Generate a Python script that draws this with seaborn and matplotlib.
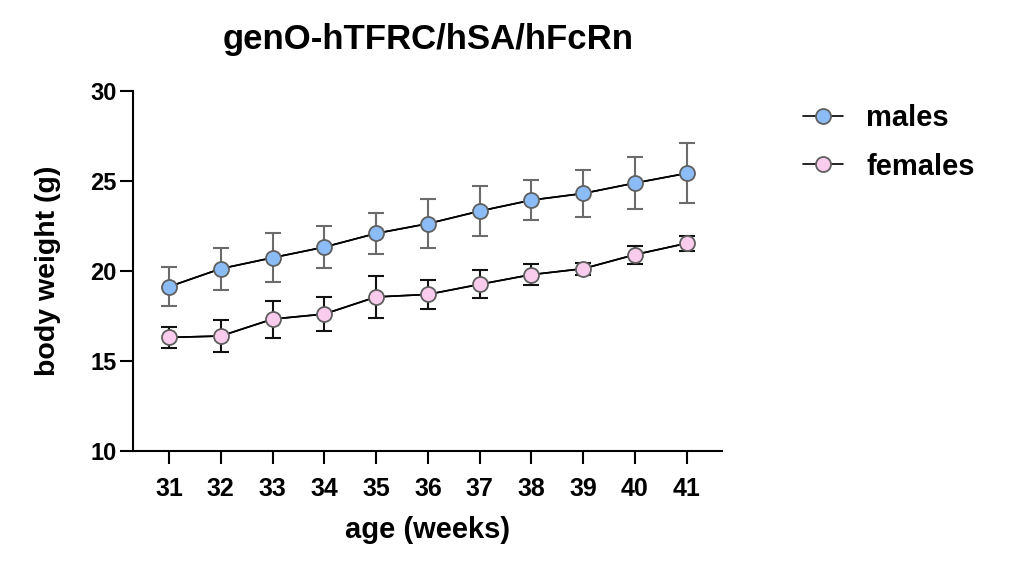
import matplotlib
matplotlib.use('Agg')
import matplotlib.pyplot as plt
import seaborn as sns
import pandas as pd

# body weight (g), mean +/- SEM
weeks = [31, 32, 33, 34, 35, 36, 37, 38, 39, 40, 41]
males_mean = [19.13, 20.13, 20.74, 21.33, 22.09, 22.63, 23.33, 23.94, 24.31, 24.89, 25.43]
males_err = [1.09, 1.17, 1.35, 1.18, 1.16, 1.36, 1.38, 1.10, 1.30, 1.46, 1.67]
females_mean = [16.31, 16.39, 17.33, 17.61, 18.56, 18.70, 19.26, 19.80, 20.13, 20.91, 21.54]
females_err = [0.57, 0.90, 1.03, 0.92, 1.15, 0.80, 0.77, 0.58, 0.33, 0.50, 0.43]

groups = ['males', 'females']
fill_colors = {'males': '#8cbcf5', 'females': '#f9cbec'}
err_colors = {'males': '#6b6b6b', 'females': '#111111'}

df = pd.concat([
    pd.DataFrame({'week': weeks, 'weight': males_mean, 'sem': males_err, 'group': 'males'}),
    pd.DataFrame({'week': weeks, 'weight': females_mean, 'sem': females_err, 'group': 'females'}),
], ignore_index=True)

sns.set_style('ticks')
plt.rcParams['font.family'] = ['Liberation Sans', 'DejaVu Sans']
plt.rcParams['font.weight'] = 'bold'
for key in ['text.color', 'axes.labelcolor', 'xtick.color', 'ytick.color', 'axes.edgecolor']:
    plt.rcParams[key] = 'black'

fig = plt.figure(figsize=(10.14, 5.62), dpi=100)
ax = fig.add_axes([0.1315, 0.1975, 0.581, 0.6405])

for g in groups:
    sub = df[df['group'] == g]
    ax.errorbar(sub['week'], sub['weight'], yerr=sub['sem'], fmt='none',
                ecolor=err_colors[g], elinewidth=1.5, capsize=5.5, capthick=1.5, zorder=2)

sns.lineplot(data=df, x='week', y='weight', hue='group', hue_order=groups,
             palette={'males': 'black', 'females': 'black'}, ax=ax,
             linewidth=1.2, legend=False, zorder=3)

for g in groups:
    sub = df[df['group'] == g]
    ax.plot(sub['week'], sub['weight'], linestyle='-', color='black', linewidth=1.2,
            marker='o', markersize=10.8, markerfacecolor=fill_colors[g],
            markeredgecolor='#5f5f5f', markeredgewidth=1.3, label=g, zorder=4)

ax.set_xlim(30.31, 41.69)
ax.set_ylim(10, 30)
ax.set_xticks(weeks)
ax.set_yticks([10, 15, 20, 25, 30])
ax.tick_params(axis='both', length=9.5, width=1.5)
ax.tick_params(axis='x', labelsize=18, pad=9)
ax.tick_params(axis='y', labelsize=17, pad=2.5)
for lab in ax.get_xticklabels() + ax.get_yticklabels():
    lab.set_fontweight('bold')
for side in ['top', 'right']:
    ax.spines[side].set_visible(False)
for side in ['left', 'bottom']:
    ax.spines[side].set_linewidth(1.5)

ax.set_xlabel('age (weeks)', fontsize=21, fontweight='bold', labelpad=11)
ax.set_ylabel('body weight (g)', fontsize=20.5, fontweight='bold', labelpad=21)
ax.set_title('genO-hTFRC/hSA/hFcRn', fontsize=25, fontweight='bold', pad=30)

leg = ax.legend(loc='upper left', bbox_to_anchor=(0.792, 0.815),
                bbox_transform=fig.transFigure, frameon=False,
                prop={'size': 21, 'weight': 'bold'}, handlelength=1.37,
                labelspacing=0.71, handletextpad=0.8, borderpad=0, borderaxespad=0)

fig.savefig('out.png', dpi=100)
